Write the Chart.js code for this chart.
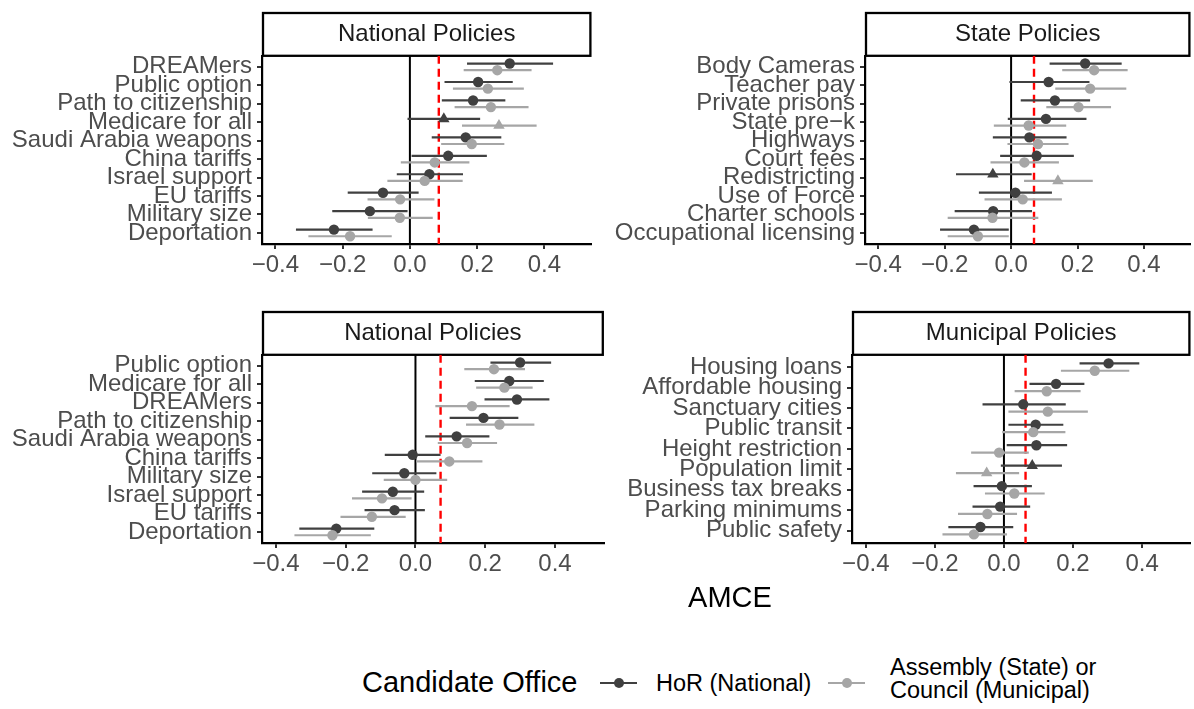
<!DOCTYPE html>
<html>
<head>
<meta charset="utf-8">
<script src="https://cdn.jsdelivr.net/npm/chart.js@4.4.1/dist/chart.umd.min.js"></script>
<style>
  body { margin: 0; background: #fff; overflow: hidden; width: 1194px; height: 709px; position: relative;
         font-family: "Liberation Sans", Arial, Helvetica, sans-serif; }
  canvas { position: absolute; }
  .txt { position: absolute; white-space: nowrap; color: #000; }
  .key-line { position: absolute; height: 2px; }
  .key-dot { position: absolute; width: 10px; height: 10px; border-radius: 50%; }
</style>
</head>
<body>
<canvas id="p1" width="598" height="300" style="left:0px;top:0px;width:598px;height:300px"></canvas>
<canvas id="p2" width="594" height="300" style="left:603px;top:0px;width:594px;height:300px"></canvas>
<canvas id="p3" width="609" height="300" style="left:0px;top:299px;width:609px;height:300px"></canvas>
<canvas id="p4" width="607" height="300" style="left:590px;top:299px;width:607px;height:300px"></canvas>

<div class="txt" style="left:730px;top:583px;font-size:29px;line-height:29px;transform:translateX(-50%)">AMCE</div>

<div class="txt" style="left:362px;top:668px;font-size:29px;line-height:29px">Candidate Office</div>
<div class="key-line" style="left:600px;top:682px;width:37px;background:#404040"></div>
<div class="key-dot" style="left:613.5px;top:678px;background:#404040"></div>
<div class="txt" style="left:656px;top:671.5px;font-size:23.5px;line-height:23px">HoR (National)</div>
<div class="key-line" style="left:828px;top:682px;width:37px;background:#A6A6A6"></div>
<div class="key-dot" style="left:841.5px;top:678px;background:#A6A6A6"></div>
<div class="txt" style="left:890px;top:655.5px;font-size:23.5px;line-height:23px">Assembly (State) or<br>Council (Municipal)</div>

<script>
// top left: National Policies
const nat1Cats = ['DREAMers', 'Public option', 'Path to citizenship', 'Medicare for all', 'Saudi Arabia weapons',
                  'China tariffs', 'Israel support', 'EU tariffs', 'Military size', 'Deportation'];
const nat1Hor   = [0.297, 0.203, 0.188, 0.101, 0.166, 0.114, 0.058, -0.080, -0.119, -0.226];
const nat1HorLo = [0.170, 0.103, 0.095, -0.007, 0.065, 0.005, -0.039, -0.185, -0.231, -0.339];
const nat1HorHi = [0.426, 0.306, 0.284, 0.209, 0.272, 0.229, 0.158, 0.026, -0.007, -0.111];
const nat1Asm   = [0.260, 0.232, 0.241, 0.265, 0.184, 0.074, 0.044, -0.029, -0.030, -0.178];
const nat1AsmLo = [0.160, 0.128, 0.133, 0.155, 0.093, -0.027, -0.067, -0.126, -0.125, -0.302];
const nat1AsmHi = [0.362, 0.339, 0.353, 0.377, 0.281, 0.177, 0.157, 0.073, 0.068, -0.054];
const nat1Tri   = [0, 0, 0, 1, 0, 0, 0, 0, 0, 0];
const nat1Ref   = 0.086;

// top right: State Policies
const stateCats = ['Body Cameras', 'Teacher pay', 'Private prisons', 'State pre\u2212k', 'Highways', 'Court fees',
                   'Redistricting', 'Use of Force', 'Charter schools', 'Occupational licensing'];
const stateHor   = [0.223, 0.113, 0.132, 0.105, 0.055, 0.077, -0.055, 0.013, -0.054, -0.112];
const stateHorLo = [0.116, -0.005, 0.029, -0.010, -0.055, -0.033, -0.166, -0.097, -0.170, -0.214];
const stateHorHi = [0.333, 0.236, 0.238, 0.227, 0.167, 0.189, 0.062, 0.123, 0.063, -0.007];
const stateAsm   = [0.250, 0.238, 0.203, 0.053, 0.081, 0.040, 0.141, 0.035, -0.056, -0.100];
const stateAsmLo = [0.154, 0.133, 0.106, -0.052, -0.011, -0.062, 0.039, -0.080, -0.191, -0.191];
const stateAsmHi = [0.351, 0.347, 0.301, 0.166, 0.173, 0.144, 0.246, 0.153, 0.082, -0.007];
const stateTri   = [0, 0, 0, 0, 0, 0, 1, 0, 0, 0];
const stateRef   = 0.069;

// bottom left: National Policies
const nat2Cats = ['Public option', 'Medicare for all', 'DREAMers', 'Path to citizenship', 'Saudi Arabia weapons',
                  'China tariffs', 'Military size', 'Israel support', 'EU tariffs', 'Deportation'];
const nat2Hor   = [0.300, 0.269, 0.291, 0.195, 0.118, -0.008, -0.032, -0.065, -0.060, -0.227];
const nat2HorLo = [0.215, 0.170, 0.198, 0.098, 0.028, -0.088, -0.124, -0.153, -0.146, -0.333];
const nat2HorHi = [0.389, 0.368, 0.384, 0.295, 0.212, 0.072, 0.060, 0.025, 0.027, -0.118];
const nat2Asm   = [0.225, 0.255, 0.162, 0.241, 0.148, 0.097, 0.000, -0.096, -0.125, -0.238];
const nat2AsmLo = [0.140, 0.174, 0.057, 0.145, 0.064, 0.002, -0.091, -0.182, -0.215, -0.347];
const nat2AsmHi = [0.314, 0.336, 0.270, 0.341, 0.234, 0.192, 0.091, -0.011, -0.028, -0.128];
const nat2Tri   = [0, 0, 0, 0, 0, 0, 0, 0, 0, 0];
const nat2Ref   = 0.072;

// bottom right: Municipal Policies
const muniCats = ['Housing loans', 'Affordable housing', 'Sanctuary cities', 'Public transit', 'Height restriction',
                  'Population limit', 'Business tax breaks', 'Parking minimums', 'Public safety'];
const muniHor   = [0.303, 0.151, 0.056, 0.092, 0.094, 0.082, -0.006, -0.011, -0.068];
const muniHorLo = [0.219, 0.074, -0.062, 0.013, 0.008, -0.009, -0.088, -0.091, -0.161];
const muniHorHi = [0.392, 0.233, 0.179, 0.172, 0.183, 0.168, 0.081, 0.076, 0.027];
const muniAsm   = [0.263, 0.124, 0.127, 0.085, -0.014, -0.050, 0.030, -0.048, -0.087];
const muniAsmLo = [0.165, 0.031, 0.013, -0.005, -0.095, -0.139, -0.055, -0.133, -0.178];
const muniAsmHi = [0.363, 0.222, 0.243, 0.178, 0.072, 0.044, 0.118, 0.038, 0.009];
const muniTri   = [0, 0, 0, 0, 0, 1, 0, 0, 0];
const muniRef   = 0.0626;

const xTicks = [-0.4, -0.2, 0, 0.2, 0.4];
const darkCol = '#404040';
const lightCol = '#A6A6A6';
const FONT = '"Liberation Sans", Arial, Helvetica, sans-serif';

// strip box behind the title, like ggplot facet strips
const stripBox = {
    id: 'stripBox',
    beforeDraw(chart) {
        const ctx = chart.ctx;
        const area = chart.chartArea;
        const top = chart.titleBlock.top + 1;
        ctx.save();
        ctx.fillStyle = '#fff';
        ctx.strokeStyle = '#000';
        ctx.lineWidth = 2.3;
        ctx.fillRect(area.left, top, area.right - area.left, area.top - top);
        ctx.strokeRect(area.left + 1, top, area.right - area.left - 2, area.top - top);
        ctx.restore();
    }
};

function build_panel(id, title, cats, hor, horLo, horHi, asm, asmLo, asmHi, tri, ref) {
    const n = cats.length;
    const dodge = 0.18;
    // error bars as one broken line per series
    const bars = (lo, hi, off) => {
        let out = [];
        for (let i = 0; i < lo.length; i++) {
            out.push({x: lo[i], y: i + 1 + off}, {x: hi[i], y: i + 1 + off}, {x: null, y: null});
        }
        return out;
    };
    const pts = (est, off) => est.map((v, i) => ({x: v, y: i + 1 + off}));
    const shapes = tri.map((t) => t ? 'triangle' : 'circle');
    const sizes = tri.map((t) => t ? 6.6 : 5.2);
    const vline = (x) => [{x: x, y: 0.4}, {x: x, y: n + 0.6}];

    new Chart(document.getElementById(id), {
        type: 'scatter',
        data: {
            datasets: [
                {data: pts(asm, dodge), pointStyle: shapes, pointRadius: sizes, pointBackgroundColor: lightCol,
                 pointBorderWidth: 0, borderColor: lightCol},
                {data: pts(hor, -dodge), pointStyle: shapes, pointRadius: sizes, pointBackgroundColor: darkCol,
                 pointBorderWidth: 0, borderColor: darkCol},
                {type: 'line', data: bars(asmLo, asmHi, dodge), borderColor: lightCol, borderWidth: 2.2,
                 pointRadius: 0, spanGaps: false, fill: false},
                {type: 'line', data: bars(horLo, horHi, -dodge), borderColor: darkCol, borderWidth: 2.2,
                 pointRadius: 0, spanGaps: false, fill: false},
                {type: 'line', data: vline(ref), borderColor: '#FF0000', borderWidth: 2.4, borderDash: [8, 5],
                 pointRadius: 0, fill: false},
                {type: 'line', data: vline(0), borderColor: '#000', borderWidth: 2,
                 pointRadius: 0, fill: false}
            ]
        },
        options: {
            responsive: false,
            animation: false,
            events: [],
            devicePixelRatio: 1,
            layout: {padding: {top: 12, right: 2, left: 0, bottom: 0}},
            plugins: {
                legend: {display: false},
                tooltip: {enabled: false},
                title: {
                    display: true,
                    text: title,
                    fullSize: false,
                    color: '#1A1A1A',
                    font: {family: FONT, size: 24, weight: 'normal'},
                    padding: {top: 7.5, bottom: 7.5}
                }
            },
            scales: {
                x: {
                    type: 'linear',
                    min: -0.44,
                    max: 0.54,
                    afterBuildTicks: (axis) => { axis.ticks = xTicks.map((v) => ({value: v})); },
                    afterFit: (axis) => { axis.height = 56; },
                    ticks: {
                        autoSkip: false, maxRotation: 0, padding: 2,
                        color: '#4D4D4D',
                        font: {family: FONT, size: 24},
                        callback: (v) => v.toFixed(1).replace('-', '\u2212')
                    },
                    grid: {display: true, drawOnChartArea: false, drawTicks: true, tickLength: 5,
                           color: '#333333', lineWidth: 2},
                    border: {display: true, color: '#000', width: 2.2}
                },
                y: {
                    type: 'linear',
                    reverse: true,
                    min: 0.4,
                    max: n + 0.6,
                    afterBuildTicks: (axis) => { axis.ticks = cats.map((c, i) => ({value: i + 1})); },
                    afterFit: (axis) => { axis.width = 262; },
                    ticks: {
                        autoSkip: false, padding: 5,
                        color: '#4D4D4D',
                        font: {family: FONT, size: 24},
                        callback: (v) => cats[Math.round(v) - 1]
                    },
                    grid: {display: true, drawOnChartArea: false, drawTicks: true, tickLength: 5,
                           color: '#333333', lineWidth: 2},
                    border: {display: true, color: '#000', width: 2.2}
                }
            }
        },
        plugins: [stripBox]
    });
}

build_panel('p1', 'National Policies', nat1Cats, nat1Hor, nat1HorLo, nat1HorHi, nat1Asm, nat1AsmLo, nat1AsmHi, nat1Tri, nat1Ref);
build_panel('p2', 'State Policies', stateCats, stateHor, stateHorLo, stateHorHi, stateAsm, stateAsmLo, stateAsmHi, stateTri, stateRef);
build_panel('p3', 'National Policies', nat2Cats, nat2Hor, nat2HorLo, nat2HorHi, nat2Asm, nat2AsmLo, nat2AsmHi, nat2Tri, nat2Ref);
build_panel('p4', 'Municipal Policies', muniCats, muniHor, muniHorLo, muniHorHi, muniAsm, muniAsmLo, muniAsmHi, muniTri, muniRef);
</script>
</body>
</html>
